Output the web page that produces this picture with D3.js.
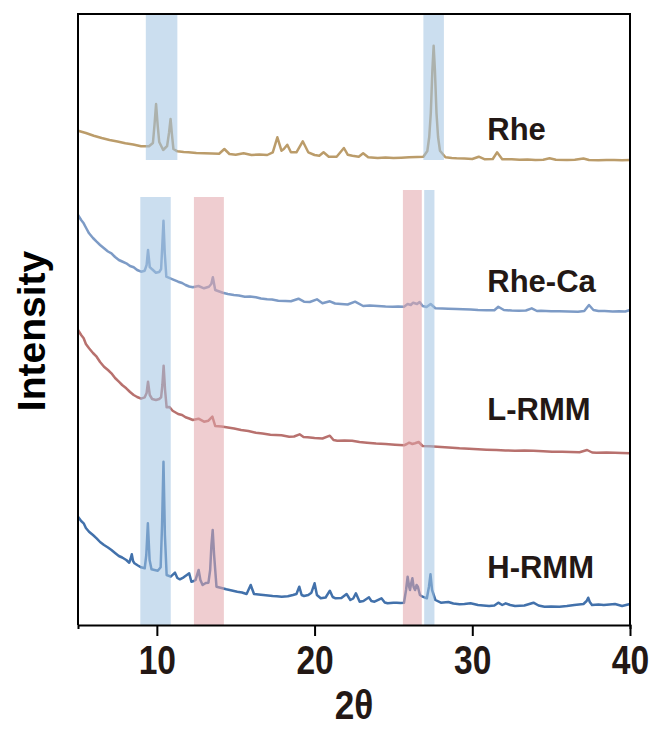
<!DOCTYPE html>
<html>
<head>
<meta charset="utf-8">
<script src="https://cdn.jsdelivr.net/npm/d3@7"></script>
<style>
  body { margin: 0; background: #fff; }
</style>
</head>
<body>
<div id="chart"></div>
<script>
// XRD patterns, [2theta, intensity a.u.] (stacked offsets already included)
var rhe = [[5.0,494.3],[5.5,492],[6.0,489.3],[6.5,487],[7.0,485],[7.5,483.5],[8.0,481.7],[8.5,480.5],[9.0,478.7],[9.5,478.7],[9.75,482],[9.85,500],[9.95,521],[10.05,500],[10.15,483],[10.4,475],[10.65,479],[10.77,492],[10.87,506],[10.96,490],[11.05,476],[11.3,473.7],[11.7,473],[12.0,472.7],[12.5,472],[13.0,471.7],[13.5,471.5],[13.95,471.3],[14.28,476],[14.6,471],[15.0,470.3],[15.5,471.7],[16.0,470],[16.5,470.5],[17.0,470],[17.35,472.7],[17.64,487.7],[17.9,474.3],[18.05,476],[18.27,480.3],[18.5,472.7],[18.85,472.7],[19.25,483.7],[19.6,472.7],[20.0,470],[20.3,469.3],[20.57,472.7],[20.9,468.3],[21.4,468.3],[21.86,477],[22.1,470.3],[22.4,469.3],[22.8,468.3],[23.08,471.7],[23.4,467.7],[24.0,467],[24.5,467.5],[25.0,467],[25.5,467.3],[26.0,467.7],[26.5,468],[26.9,468.3],[27.15,474],[27.27,488],[27.37,512],[27.47,555],[27.55,579.3],[27.63,555],[27.73,512],[27.83,488],[27.95,474.3],[28.3,467.7],[28.7,467],[29.0,466.7],[29.5,466.5],[30.0,466],[30.41,468.3],[30.8,465.7],[31.3,466],[31.57,472.7],[31.9,465.7],[32.5,465.8],[33.0,465.3],[33.5,465.5],[34.0,465],[34.5,465.3],[34.9,466.7],[35.3,465.2],[36.0,465],[36.5,465.3],[37.05,466.5],[37.4,465],[38.0,464.7],[38.5,465],[39.0,465],[39.5,464.8],[40.0,465]];

var rheCa = [[5.0,410],[5.2,405],[5.36,401.7],[5.55,396],[5.7,391.7],[5.95,387],[6.18,383.3],[6.4,380],[6.65,376.7],[6.9,373.5],[7.12,371.7],[7.35,368],[7.59,365],[7.8,363.5],[8.06,361.7],[8.3,359],[8.53,357.7],[8.75,355],[9.0,353.3],[9.23,354.3],[9.35,360],[9.44,375],[9.55,358],[9.7,355.7],[9.94,352.3],[10.15,353],[10.27,356],[10.34,378],[10.42,404.3],[10.5,372],[10.6,348.3],[11.0,345.7],[11.35,343.3],[11.6,342],[11.82,340],[12.05,338.5],[12.28,337.7],[12.64,339],[12.99,336.7],[13.3,338.3],[13.45,341],[13.55,347.7],[13.7,335],[14.18,332.3],[14.5,331],[14.88,330],[15.2,329.5],[15.58,328.3],[15.9,328.5],[16.28,327.7],[16.6,326.5],[16.99,325.7],[17.3,325.5],[17.7,324.3],[18.16,324],[18.5,323.7],[18.98,326.3],[19.33,323.3],[19.7,323],[20.15,325.7],[20.5,321.7],[20.97,323.7],[21.3,321.5],[21.68,321],[22.1,320.5],[22.57,323.3],[23.08,319],[23.5,319.5],[24.0,319],[24.5,318.5],[24.96,318.3],[25.3,318.5],[25.67,318.3],[25.9,321],[26.1,320],[26.25,322.3],[26.5,321],[26.66,323],[26.85,319],[27.1,318],[27.36,321],[27.66,316.7],[28.1,316.5],[28.48,316.3],[29.0,316],[29.42,315.7],[29.9,315.5],[30.36,315],[30.9,314.7],[31.4,314.8],[31.65,318.3],[32.0,315],[32.5,314.5],[32.94,314.3],[33.4,314.5],[33.77,316.7],[34.1,314],[34.35,314.3],[35.0,313.8],[35.53,313.7],[36.1,313.5],[36.7,313.3],[37.1,314],[37.4,320],[37.68,315],[38.0,314],[38.39,314],[38.9,313.6],[39.33,313.7],[39.7,313.5],[40.0,315]];

var lRmm = [[5.0,295],[5.2,290],[5.36,286.7],[5.5,281],[5.7,276.7],[5.95,272],[6.18,268.3],[6.4,263],[6.65,258.3],[6.9,255],[7.12,251.7],[7.35,247],[7.59,243.3],[7.8,240],[8.06,236.7],[8.3,233],[8.53,230],[8.75,228],[9.0,226.3],[9.23,227.7],[9.35,232],[9.44,243.3],[9.55,230],[9.7,226],[9.94,225],[10.15,226],[10.27,227.7],[10.35,240],[10.43,259.3],[10.52,235],[10.62,217.7],[10.8,218],[11.0,214.3],[11.35,211],[11.6,210],[11.82,207.7],[12.05,206.5],[12.28,205],[12.64,206.3],[12.99,203.3],[13.27,204.3],[13.52,208.3],[13.7,199],[14.1,198.5],[14.4,197.7],[14.9,196.5],[15.34,195],[15.8,194],[16.28,192.3],[16.7,191.5],[17.2,190.3],[17.55,190],[17.9,189.7],[18.39,188.3],[18.7,188.5],[19.05,190.7],[19.3,188],[19.56,187.7],[20.0,187],[20.5,186.5],[20.97,189.3],[21.2,185],[21.44,184.3],[21.9,184.5],[22.38,184.3],[22.85,183],[23.32,182.3],[23.9,181.5],[24.5,181],[25.1,180.3],[25.67,179.7],[25.85,181],[26.0,182.3],[26.2,181],[26.37,181.7],[26.6,183],[26.85,179],[27.3,178.8],[27.78,178.3],[28.5,177.5],[29.19,176.7],[29.8,176.3],[30.36,175.7],[30.9,175.3],[31.53,175],[32.1,174.5],[32.71,174.3],[33.3,174.6],[33.88,174.3],[34.5,173.8],[35.06,173.3],[35.7,173.3],[36.24,173],[36.8,172.8],[37.28,175],[37.6,172.5],[37.87,172.3],[38.5,172.5],[39.05,172.3],[39.5,172],[40.0,171.7]];

var hRmm = [[5.0,108.3],[5.2,104],[5.36,101.7],[5.5,97],[5.7,93.3],[5.95,90],[6.18,86.7],[6.4,83],[6.65,80],[6.9,77.5],[7.12,75],[7.35,72],[7.59,69],[7.8,67.5],[8.06,65],[8.25,62.3],[8.33,66],[8.41,70.7],[8.49,64],[8.58,61.7],[8.8,59.5],[9.0,57.7],[9.23,56.7],[9.33,70],[9.43,101.7],[9.54,65],[9.66,55.7],[9.85,55],[10.06,54.3],[10.24,57.7],[10.33,100],[10.42,163.3],[10.51,90],[10.62,50],[10.88,48.3],[11.15,52.3],[11.3,47],[11.46,45.7],[11.7,47.7],[11.9,50],[12.05,51.7],[12.19,43.3],[12.35,44],[12.45,45],[12.55,50],[12.65,55],[12.76,45],[12.9,40],[13.1,42],[13.27,42.3],[13.38,55],[13.46,80],[13.54,95],[13.63,70],[13.78,38.3],[14.1,37],[14.4,35.7],[14.75,34.5],[15.1,33.3],[15.4,32.5],[15.69,31],[15.95,40],[16.16,31],[16.45,30.5],[16.75,30],[17.05,29.5],[17.34,29],[17.6,28.7],[17.92,28.3],[18.3,28.7],[18.63,30],[18.85,31],[19.03,38.3],[19.18,30],[19.33,29],[19.6,30],[19.8,32.3],[20.0,41.7],[20.15,30],[20.39,26.7],[20.7,27.5],[20.97,34.3],[21.15,28],[21.33,26.7],[21.7,27],[22.03,31],[22.27,25],[22.45,26.5],[22.62,31.7],[22.86,23.3],[23.1,24],[23.45,27.7],[23.6,24],[23.8,23.3],[24.24,26.7],[24.45,22.5],[24.63,21.7],[25.0,22.3],[25.21,22.3],[25.45,22],[25.67,22.3],[25.8,35],[25.9,48.3],[26.0,38],[26.05,35],[26.13,42],[26.2,46.7],[26.28,38],[26.37,35],[26.47,40],[26.55,38.3],[26.68,30],[26.85,28.3],[27.12,26.7],[27.25,38],[27.35,50.7],[27.45,35],[27.66,25],[28.01,22.3],[28.48,23],[28.8,21.5],[29.19,20.7],[29.5,21],[29.89,21.7],[30.36,20],[30.7,19.5],[31.07,19],[31.4,19.5],[31.65,22.3],[31.9,20],[32.12,21.7],[32.4,20],[32.71,19],[33.3,19.5],[33.88,22.3],[34.2,19.5],[34.58,18.3],[35.0,18.5],[35.53,18.3],[36.0,19],[36.47,20],[37.05,21],[37.25,24],[37.35,27.3],[37.45,23],[37.59,20],[38.0,20.5],[38.34,20],[38.7,20.5],[39.05,21],[39.5,19],[40.0,21]];

var seriesNames = ['Rhe', 'Rhe-Ca', 'L-RMM', 'H-RMM'];
var seriesData = [rhe, rheCa, lRmm, hRmm];
var labelPos = [[30.95, 485], [30.95, 333], [30.95, 205], [30.95, 47]];

// highlighted 2theta ranges: [from, to, low, high, phase]
var bands = [
	[9.3, 11.3, 465, 610, 'b'],
	[26.9, 28.2, 465, 610, 'b'],
	[8.95, 10.88, 0, 428, 'b'],
	[12.35, 14.25, 0, 428, 'r'],
	[25.6, 26.8, 0, 435, 'r'],
	[26.95, 27.6, 0, 435, 'b']
];
var xTicks = [10, 20, 30, 40];

(function () {
	var colors = ['#bb9c6a', '#7d9bc6', '#b8716e', '#4271ab'];
	var bandColors = { b: 'rgb(160,195,225)', r: 'rgb(226,164,170)' };
	var ink = '#231815';

	var width = 650, height = 729;
	var plotL = 78, plotR = 630, plotT = 14, plotB = 625;

	var svg = d3.select('#chart').append('svg')
		.attr('width', width)
		.attr('height', height);

	var x = d3.scaleLinear().domain([5, 40]).range([plotL, plotR]);
	var y = d3.scaleLinear().domain([0, 611]).range([plotB, plotT]);

	var line = d3.line()
		.x(function (d) { return x(d[0]); })
		.y(function (d) { return y(d[1]); });

	svg.selectAll('path.pattern')
		.data(seriesData)
		.enter()
		.append('path')
		.attr('class', 'pattern')
		.attr('d', line)
		.attr('fill', 'none')
		.attr('stroke', function (d, i) { return colors[i]; })
		.attr('stroke-width', 2.5)
		.attr('stroke-linejoin', 'round');

	// shading goes on top of the lines, semi transparent
	svg.selectAll('rect.band')
		.data(bands)
		.enter()
		.append('rect')
		.attr('class', 'band')
		.attr('x', function (d) { return x(d[0]); })
		.attr('width', function (d) { return x(d[1]) - x(d[0]); })
		.attr('y', function (d) { return y(d[3]); })
		.attr('height', function (d) { return y(d[2]) - y(d[3]); })
		.attr('fill', function (d) { return bandColors[d[4]]; })
		.attr('opacity', 0.55);

	// frame
	svg.append('path')
		.attr('d', 'M' + plotL + ',' + plotB + 'V' + plotT + 'H' + plotR + 'V' + plotB)
		.attr('fill', 'none')
		.attr('stroke', '#000')
		.attr('stroke-width', 2);

	var xAxis = svg.append('g')
		.attr('transform', 'translate(0,' + plotB + ')')
		.call(d3.axisBottom(x).tickValues(xTicks).tickSize(11).tickSizeOuter(4).tickPadding(10));

	xAxis.select('.domain').attr('stroke', '#000').attr('stroke-width', 2);
	xAxis.selectAll('.tick line').attr('stroke', '#000').attr('stroke-width', 2);
	// narrow bold look
	xAxis.selectAll('.tick text')
		.attr('fill', ink)
		.attr('transform', 'scale(0.84,1)')
		.style('font-family', '"Liberation Sans", Arial, sans-serif')
		.style('font-weight', 'bold')
		.style('font-size', '40px');

	svg.append('text')
		.attr('transform', 'translate(' + ((plotL + plotR) / 2) + ',719) scale(0.88,1)')
		.attr('text-anchor', 'middle')
		.attr('fill', ink)
		.style('font-family', '"Liberation Sans", Arial, sans-serif')
		.style('font-weight', 'bold')
		.style('font-size', '40px')
		.text('2θ');

	svg.append('text')
		.attr('transform', 'translate(45,331) rotate(-90)')
		.attr('text-anchor', 'middle')
		.attr('fill', '#000')
		.style('font-family', '"Liberation Sans", Arial, sans-serif')
		.style('font-weight', 'bold')
		.style('font-size', '39px')
		.text('Intensity');

	svg.selectAll('text.name')
		.data(seriesNames)
		.enter()
		.append('text')
		.attr('class', 'name')
		.attr('x', function (d, i) { return x(labelPos[i][0]); })
		.attr('y', function (d, i) { return y(labelPos[i][1]); })
		.attr('fill', ink)
		.style('font-family', '"Liberation Sans", Arial, sans-serif')
		.style('font-weight', 'bold')
		.style('font-size', '31px')
		.text(function (d) { return d; });
})();
</script>
</body>
</html>
